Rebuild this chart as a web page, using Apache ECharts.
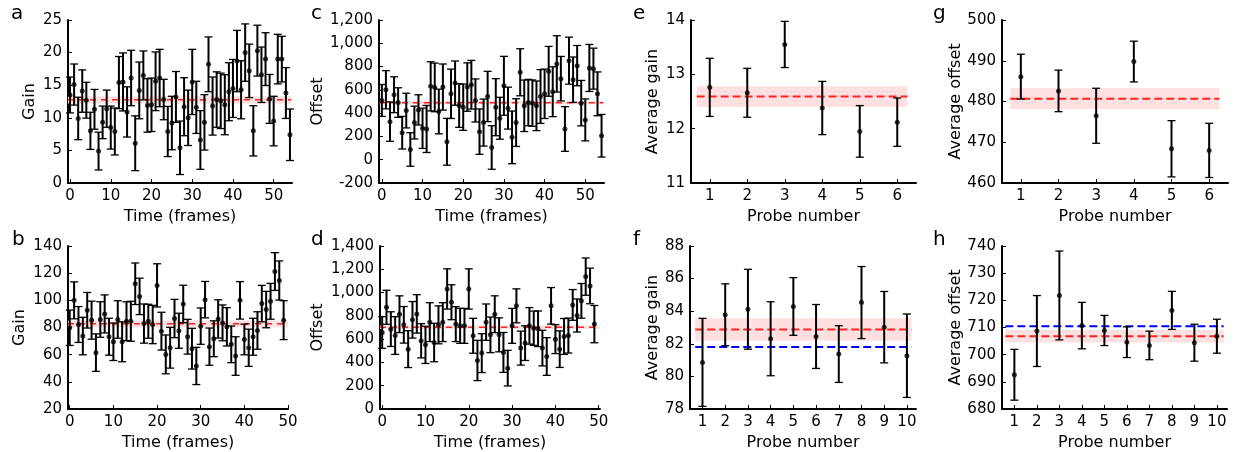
<!DOCTYPE html>
<html>
<head>
<meta charset="utf-8">
<script src="https://cdn.jsdelivr.net/npm/echarts@6/dist/echarts.min.js"></script>
<style>
html, body { margin: 0; padding: 0; background: #fff; }
#chart { width: 1235px; height: 452px; }
</style>
</head>
<body>
<div id="chart"></div>
<script>
// a: gain per frame (probe 1)
var gainA = [13.5, 15.1, 9.9, 14.1, 12.7, 8.0, 11.3, 4.9, 9.3, 11.4, 8.5, 7.9, 15.4, 15.5, 10.9, 16.1, 6.1, 14.2, 16.5, 11.9,
	12.0, 15.6, 16.1, 12.8, 7.9, 9.2, 13.2, 5.4, 11.7, 10.0, 15.5, 11.6, 6.6, 9.3, 18.2, 11.8, 12.8, 12.6, 12.0, 14.0,
	14.5, 18.7, 14.3, 20.0, 17.2, 8.0, 20.3, 16.6, 19.0, 12.9, 9.5, 19.0, 19.0, 13.8, 7.4];
var gainAErr = [2.75, 3.15, 3.25, 3.25, 2.75, 2.85, 3.05, 2.9, 2.5, 2.85, 3.3, 3.6, 4.0, 4.45, 3.85, 4.25, 4.2, 4.35, 3.75, 4.1,
	4.1, 4.5, 4.4, 3.1, 3.85, 4.1, 3.9, 4.1, 4.45, 4.25, 5.0, 4.0, 4.5, 4.25, 4.2, 4.45, 4.25, 4.25, 4.6, 4.45,
	4.45, 4.7, 4.45, 4.4, 4.1, 3.85, 3.9, 4.25, 4.05, 3.75, 3.8, 3.8, 3.5, 3.9, 3.95];
// c: offset per frame (probe 1)
var offsetC = [509, 601, 327, 558, 491, 232, 422, 88, 319, 428, 270, 264, 630, 621, 414, 624, 154, 566, 658, 465,
	451, 624, 644, 509, 241, 319, 543, 105, 451, 356, 635, 443, 192, 319, 751, 463, 491, 486, 463, 543,
	566, 759, 584, 823, 696, 264, 851, 687, 808, 486, 342, 788, 782, 566, 206];
var offsetCErr = [137, 164, 169, 154, 127, 140, 149, 144, 141, 130, 173, 202, 211, 209, 192, 198, 201, 212, 190, 187,
	199, 208, 209, 185, 195, 202, 216, 187, 245, 180, 253, 180, 226, 205, 202, 221, 199, 199, 213, 231,
	212, 214, 214, 242, 191, 192, 202, 195, 173, 195, 180, 202, 176, 188, 183];
// b: gain per frame (second set)
var gainB = [79.8, 100, 82.2, 73.7, 92.7, 85.4, 61.5, 85.9, 90, 73.2, 69.5, 85.9, 69.5, 84.6, 84.6, 112.2, 102.9, 82.9, 84.6, 82.2,
	111, 77.3, 60.2, 65.1, 86.6, 77.6, 97.3, 73.2, 64.4, 51.7, 81, 100.5, 65.9, 71.7, 86.3, 83.4, 80.5, 67.6, 59, 100,
	71.2, 65.1, 73.2, 77.8, 97.6, 93.2, 99.3, 121.2, 114.6, 85.4];
var gainBErr = [13.0, 13.6, 13.2, 13.8, 13.1, 14.0, 13.8, 13.1, 14.0, 13.6, 13.8, 13.8, 14.7, 14.3, 14.7, 15.3, 13.4, 14.4, 12.5, 14.1,
	15.9, 13.9, 14.3, 15.0, 14.1, 12.9, 13.8, 12.8, 15.0, 13.7, 13.4, 13.4, 13.7, 13.2, 14.1, 13.2, 14.1, 13.5, 14.2, 13.8,
	11.3, 13.7, 13.6, 13.8, 13.4, 13.4, 13.2, 13.9, 14.4, 14.3];
// d: offset per frame (second set)
var offsetD = [657, 874, 686, 631, 814, 723, 514, 766, 817, 586, 551, 746, 571, 723, 746, 1031, 917, 729, 714, 714,
	1031, 629, 417, 480, 746, 637, 814, 637, 486, 351, 714, 886, 523, 566, 714, 694, 689, 523, 451, 886,
	600, 514, 623, 631, 894, 803, 929, 1137, 1057, 729];
var offsetDErr = [136, 146, 149, 162, 158, 157, 158, 157, 165, 147, 160, 167, 165, 163, 167, 173, 150, 150, 150, 150,
	173, 150, 173, 167, 156, 153, 158, 146, 171, 153, 150, 146, 146, 149, 157, 147, 153, 153, 162, 157,
	124, 157, 154, 150, 132, 142, 149, 160, 153, 160];

// e, g: averages over 6 probes
var probes6 = [1, 2, 3, 4, 5, 6];
var avgGainE = [12.76, 12.66, 13.55, 12.38, 11.95, 12.12];
var avgGainEErr = [0.535, 0.45, 0.425, 0.49, 0.475, 0.445];
var avgOffsetG = [486.1, 482.6, 476.5, 489.8, 468.4, 468.0];
var avgOffsetGErr = [5.5, 5.1, 6.75, 5.0, 6.9, 6.65];
// f, h: averages over 10 probes
var probes10 = [1, 2, 3, 4, 5, 6, 7, 8, 9, 10];
var avgGainF = [80.86, 83.78, 84.12, 82.31, 84.29, 82.45, 81.37, 84.53, 83.02, 81.27];
var avgGainFErr = [2.7, 1.9, 2.45, 2.27, 1.77, 1.96, 1.74, 2.21, 2.19, 2.56];
var avgOffsetH = [692.6, 708.7, 721.8, 710.7, 708.9, 704.6, 703.4, 716.3, 704.4, 706.8];
var avgOffsetHErr = [9.35, 13.05, 16.35, 8.55, 5.55, 5.65, 5.25, 7.0, 6.8, 6.25];

// overall mean (red) and its uncertainty band, reference value (blue)
var meanA = 12.75, bandA = 0.55;
var meanC = 490, bandC = 15;
var meanB = 82.7, bandB = 2.5;
var meanD = 703, bandD = 15;
var meanE = 12.59, bandE = 0.19;
var meanG = 480.7, bandG = 2.55;
var meanF = 82.88, bandF = 0.69, refF = 81.80;
var meanH = 706.8, bandH = 2.3, refH = 710.5;

var timeTicks = [0, 10, 20, 30, 40, 50];

var FONT = 'DejaVu Sans';
var grids = [], xAxes = [], yAxes = [], series = [], graphics = [];

function pairs(xs, ys, es) {
	return ys.map(function (v, i) { return [xs ? xs[i] : i, v, es[i]]; });
}

function renderErr(params, api) {
	var x = api.value(0), y = api.value(1), e = api.value(2);
	var top = api.coord([x, y + e]);
	var bot = api.coord([x, y - e]);
	var st = { stroke: '#000', lineWidth: 2 };
	var cap = { stroke: '#000', lineWidth: 1.3 };
	return {
		type: 'group',
		children: [
			{ type: 'line', shape: { x1: top[0], y1: top[1], x2: bot[0], y2: bot[1] }, style: st },
			{ type: 'line', shape: { x1: top[0] - 4, y1: top[1], x2: top[0] + 4, y2: top[1] }, style: cap },
			{ type: 'line', shape: { x1: bot[0] - 4, y1: bot[1], x2: bot[0] + 4, y2: bot[1] }, style: cap }
		]
	};
}

function addPanel(p) {
	var k = grids.length;
	grids.push({ left: p.box[0], top: p.box[1], width: p.box[2], height: p.box[3] });
	xAxes.push({
		type: 'value', gridIndex: k, min: p.xr[0], max: p.xr[1],
		name: p.xName, nameLocation: 'middle', nameGap: 26,
		nameTextStyle: { fontFamily: FONT, fontSize: 16, color: '#000' },
		axisLine: { onZero: false, lineStyle: { color: '#000', width: 2 } },
		axisTick: { inside: true, length: 4, customValues: p.xTicks, lineStyle: { color: '#000', width: 1 } },
		axisLabel: { customValues: p.xTicks, fontFamily: FONT, fontSize: 15, color: '#000', margin: 6 },
		splitLine: { show: false }
	});
	yAxes.push({
		type: 'value', gridIndex: k, min: p.yr[0], max: p.yr[1], interval: p.yr[2],
		name: p.yName, nameLocation: 'middle', nameGap: p.nameGap,
		nameTextStyle: { fontFamily: FONT, fontSize: 16, color: '#000' },
		axisLine: { show: true, onZero: false, lineStyle: { color: '#000', width: 2 } },
		axisTick: { show: true, inside: true, length: 4, lineStyle: { color: '#000', width: 1 } },
		axisLabel: {
			fontFamily: FONT, fontSize: 15, color: '#000', margin: 6,
			formatter: function (v) { return v.toLocaleString('en-US'); }
		},
		splitLine: { show: false }
	});
	// mean line with shaded band
	series.push({
		type: 'line', xAxisIndex: k, yAxisIndex: k, z: 2,
		data: [[p.lineX[0], p.mean], [p.lineX[1], p.mean]],
		symbol: 'none', silent: true,
		lineStyle: { color: '#ff2020', width: p.lineW, type: p.dash },
		markArea: {
			silent: true,
			itemStyle: { color: '#ffe0e0' },
			data: [[{ coord: [p.lineX[0], p.mean - p.band] }, { coord: [p.lineX[1], p.mean + p.band] }]]
		}
	});
	if (p.ref !== undefined) {
		series.push({
			type: 'line', xAxisIndex: k, yAxisIndex: k, z: 2,
			data: [[p.lineX[0], p.ref], [p.lineX[1], p.ref]],
			symbol: 'none', silent: true,
			lineStyle: { color: '#0000ff', width: p.lineW, type: p.dash }
		});
	}
	series.push({
		type: 'custom', xAxisIndex: k, yAxisIndex: k, z: 3,
		renderItem: renderErr, encode: { x: 0, y: 1 },
		data: p.data
	});
	series.push({
		type: 'scatter', xAxisIndex: k, yAxisIndex: k, z: 4,
		symbolSize: 5, itemStyle: { color: '#000' },
		data: p.data.map(function (d) { return [d[0], d[1]]; })
	});
	graphics.push({
		type: 'text', left: p.letter[1], top: p.letter[2],
		style: { text: p.letter[0], font: '20px ' + FONT, fill: '#000' }
	});
}

addPanel({ box: [68, 20, 224, 163], xr: [-0.5, 54.5], yr: [0, 25, 5], xTicks: timeTicks,
	xName: 'Time (frames)', yName: 'Gain', nameGap: 30, letter: ['a', 11, 4],
	data: pairs(null, gainA, gainAErr), mean: meanA, band: bandA, lineX: [-0.5, 54.3], lineW: 1.5, dash: [6, 5] });
addPanel({ box: [379, 20, 225, 163], xr: [-0.7, 54.6], yr: [-200, 1200, 200], xTicks: timeTicks,
	xName: 'Time (frames)', yName: 'Offset', nameGap: 53, letter: ['c', 311, 4],
	data: pairs(null, offsetC, offsetCErr), mean: meanC, band: bandC, lineX: [-0.5, 54.4], lineW: 1.5, dash: [6, 5] });
addPanel({ box: [691, 20, 225, 163], xr: [0.5, 6.5], yr: [11, 14, 1], xTicks: probes6,
	xName: 'Probe number', yName: 'Average gain', nameGap: 30, letter: ['e', 633, 4],
	data: pairs(probes6, avgGainE, avgGainEErr), mean: meanE, band: bandE, lineX: [0.65, 6.27], lineW: 2, dash: [8, 4] });
addPanel({ box: [1002, 20, 226, 163], xr: [0.5, 6.5], yr: [460, 500, 10], xTicks: probes6,
	xName: 'Probe number', yName: 'Average offset', nameGap: 37, letter: ['g', 933, 4],
	data: pairs(probes6, avgOffsetG, avgOffsetGErr), mean: meanG, band: bandG, lineX: [0.72, 6.27], lineW: 2, dash: [8, 4] });

addPanel({ box: [68, 246, 220, 164], xr: [-0.4, 50], yr: [20, 140, 20], xTicks: timeTicks,
	xName: 'Time (frames)', yName: 'Gain', nameGap: 40, letter: ['b', 12, 230],
	data: pairs(null, gainB, gainBErr), mean: meanB, band: bandB, lineX: [-0.4, 50], lineW: 1.5, dash: [6, 5] });
addPanel({ box: [380, 246, 220, 164], xr: [-0.5, 50.3], yr: [0, 1400, 200], xTicks: timeTicks,
	xName: 'Time (frames)', yName: 'Offset', nameGap: 54, letter: ['d', 311, 230],
	data: pairs(null, offsetD, offsetDErr), mean: meanD, band: bandD, lineX: [-0.5, 50.3], lineW: 1.5, dash: [6, 5] });
addPanel({ box: [690, 246, 226, 164], xr: [0.45, 10.4], yr: [78, 88, 2], xTicks: probes10,
	xName: 'Probe number', yName: 'Average gain', nameGap: 29, letter: ['f', 633, 230],
	data: pairs(probes10, avgGainF, avgGainFErr), mean: meanF, band: bandF, ref: refF, lineX: [0.68, 10.2], lineW: 2, dash: [8, 4] });
addPanel({ box: [1002, 246, 225, 164], xr: [0.45, 10.45], yr: [680, 740, 10], xTicks: probes10,
	xName: 'Probe number', yName: 'Average offset', nameGap: 37, letter: ['h', 933, 230],
	data: pairs(probes10, avgOffsetH, avgOffsetHErr), mean: meanH, band: bandH, ref: refH, lineX: [0.6, 10.3], lineW: 2, dash: [8, 4] });

var chart = echarts.init(document.getElementById('chart'), null, { renderer: 'canvas' });
chart.setOption({
	animation: false,
	backgroundColor: '#fff',
	textStyle: { fontFamily: FONT },
	grid: grids,
	xAxis: xAxes,
	yAxis: yAxes,
	series: series,
	graphic: graphics
});
</script>
</body>
</html>
